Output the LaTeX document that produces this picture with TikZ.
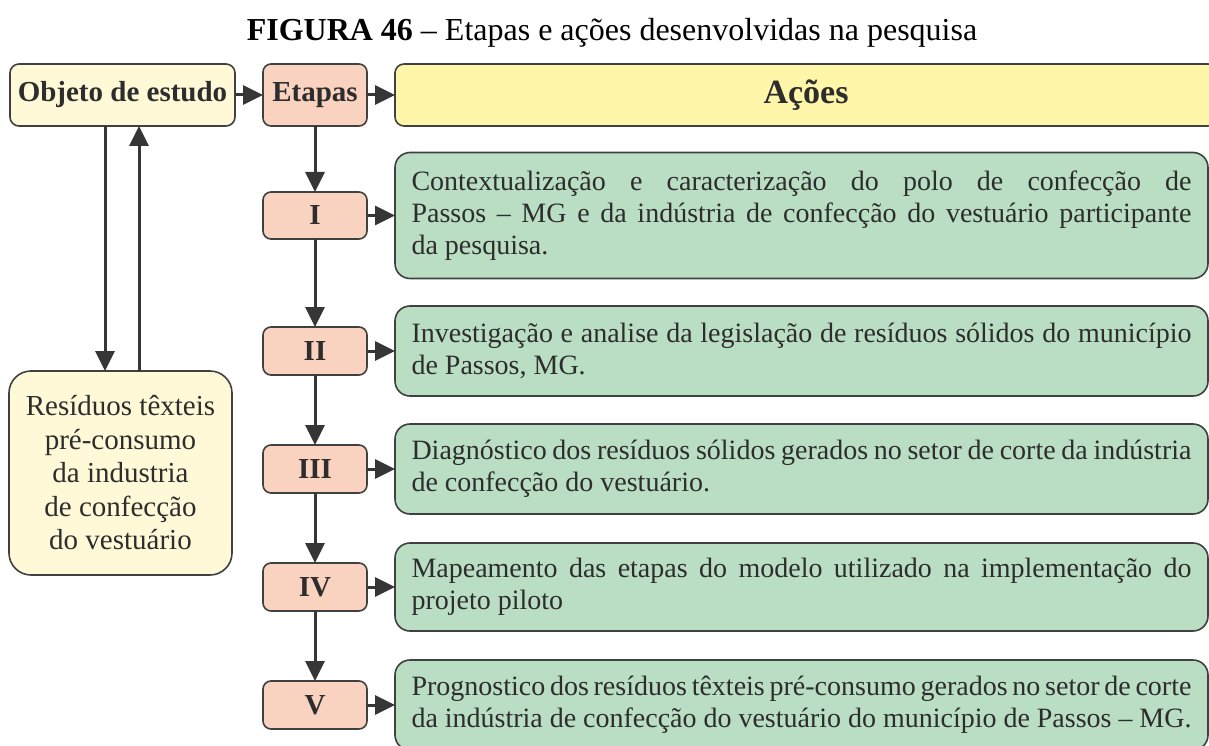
\documentclass[tikz,border=0pt]{standalone}
\usepackage{fontspec}
\setmainfont{Liberation Serif}
\usetikzlibrary{arrows.meta, positioning}

\definecolor{objyellow}{RGB}{255,249,215}
\definecolor{headyellow}{RGB}{255,246,170}
\definecolor{stagesalmon}{RGB}{250,210,192}
\definecolor{actgreen}{RGB}{186,222,195}
\definecolor{linegray}{RGB}{64,64,64}
\definecolor{textgray}{RGB}{45,45,45}

\newcommand{\boxfont}{\fontsize{28}{32}\selectfont}
\hyphenpenalty=10000
\tolerance=9999

\begin{document}
\begin{tikzpicture}[x=1pt, y=-1pt,
    objbox/.style={rectangle, rounded corners=9pt, draw=linegray, line width=1.6pt, outer sep=0pt, fill=objyellow, text=textgray, font=\fontsize{29}{33.5}\selectfont},
    stagebox/.style={rectangle, rounded corners=8pt, draw=linegray, line width=1.6pt, outer sep=0pt, fill=stagesalmon, text=textgray, minimum width=104pt, minimum height=48pt, font=\fontsize{29}{33}\selectfont\bfseries},
    headbox/.style={rectangle, rounded corners=9pt, draw=linegray, line width=1.6pt, outer sep=0pt, fill=headyellow, text=textgray, minimum width=822pt, minimum height=62pt, font=\fontsize{34}{38}\selectfont\bfseries},
    actbox/.style={rectangle, rounded corners=15pt, draw=linegray, line width=1.6pt, outer sep=0pt, fill=actgreen, text=textgray, text width=780pt, inner xsep=16.5pt, align=justify, minimum height=90pt, font=\boxfont},
    arrow/.style={-{Triangle[length=20pt, width=19pt]}, line width=3pt, draw=linegray!85!black}
]
\useasboundingbox (0,0) rectangle (1209,746);
\clip (0,0) rectangle (1209,746);

% Title
\node[text=black, font=\fontsize{32}{36}\selectfont] (title) at (612,33) {\textbf{FIGURA 46} – Etapas e ações desenvolvidas na pesquisa};

% Top row
\node[objbox, minimum width=225pt, minimum height=62pt] (objeto) at (122.5,95) {\bfseries Objeto de estudo};
\node[stagebox, minimum height=62pt, right=28pt of objeto] (etapas) {Etapas};
\node[headbox, right=28pt of etapas] (acoes) {Ações};

% Stages
\node[stagebox, minimum height=47pt, below=66pt of etapas] (s1) {I};
\node[stagebox, below=88pt of s1] (s2) {II};
\node[stagebox, below=70pt of s2] (s3) {III};
\node[stagebox, below=70pt of s3] (s4) {IV};
\node[stagebox, below=70pt of s4] (s5) {V};

% Actions
\node[actbox, minimum height=126pt, right=28pt of s1] (a1) {Contextualização e caracterização do polo de confecção de\linebreak Passos – MG e da indústria de confecção do vestuário participante\linebreak da pesquisa.};
\node[actbox, right=28pt of s2] (a2) {Investigação e analise da legislação de resíduos sólidos do município\linebreak de Passos, MG.};
\node[actbox, right=28pt of s3] (a3) {Diagnóstico dos resíduos sólidos gerados no setor de corte da indústria\linebreak de confecção do vestuário.};
\node[actbox, minimum height=88pt, right=28pt of s4] (a4) {Mapeamento das etapas do modelo utilizado na implementação do\linebreak projeto piloto};
\node[actbox, right=28pt of s5] (a5) {Prognostico dos resíduos têxteis pré-consumo gerados no setor de corte\linebreak da indústria de confecção do vestuário do município de Passos – MG.};

% Object of study
\node[objbox, rounded corners=22pt, minimum width=223pt, minimum height=204pt, align=center] (residuos) at (120.5,473) {Resíduos têxteis\\pré-consumo\\da industria\\de confecção\\do vestuário};

% Arrows
\draw[arrow] (objeto) -- (etapas);
\draw[arrow] (etapas) -- (acoes);
\draw[arrow] (etapas) -- (s1);
\draw[arrow] (s1) -- (s2);
\draw[arrow] (s2) -- (s3);
\draw[arrow] (s3) -- (s4);
\draw[arrow] (s4) -- (s5);
\foreach \i in {1,...,5}
  \draw[arrow] (s\i) -- (a\i);
\draw[arrow] ([xshift=-17.5pt]objeto.south) -- ([xshift=-17.5pt]objeto.south |- residuos.north);
\draw[arrow] ([xshift=16.5pt]objeto.south |- residuos.north) -- ([xshift=16.5pt]objeto.south);

\end{tikzpicture}
\end{document}
